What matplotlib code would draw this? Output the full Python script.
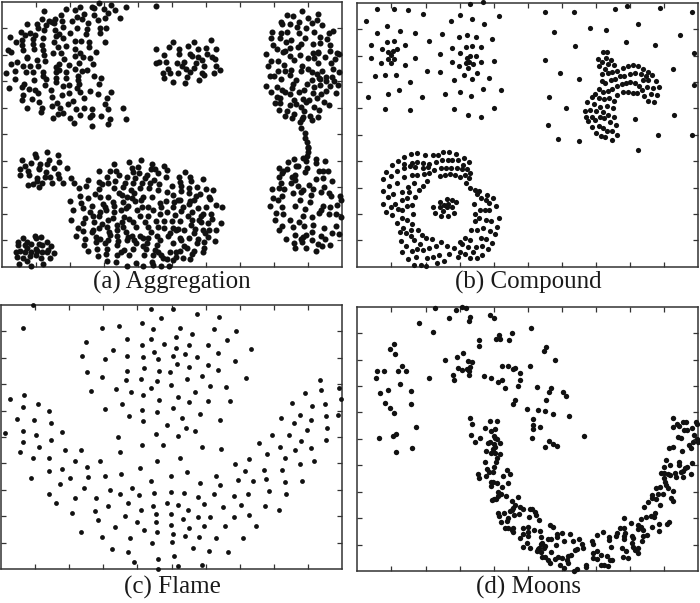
import numpy as np
import matplotlib
matplotlib.use('Agg')
import matplotlib.pyplot as plt

# Points, one list per zoomed crop (crop pixels, 3x scale)
agg_tile1 = [(297,8),(240,20),(277,20),(281,24),(332,16),(311,27),(379,22),(468,17),(345,30),(199,28),(224,30),(131,33),(251,42),(324,40),(283,45),(184,46),(232,50),(245,58),(360,54),(295,60),(314,55),(216,62),(187,62),(164,57),(157,65),(148,64),(126,58),(163,68),(80,71),(110,73),(115,84),(139,76),(188,80),(265,70),(232,83),(262,88),(299,84),(319,84),(133,90),(165,90),(64,96),(89,99),(75,104),(104,104),(210,100),(259,101),(299,100),(167,108),(178,103),(190,113),(30,112),(67,120),(99,117),(128,115),(162,126),(226,124),(242,122),(267,126),(314,125),(49,127),(65,136),(98,133),(127,135),(173,140),(197,137),(267,142),(225,147),(23,150),(33,157),(69,151),(103,148),(128,150),(158,160),(184,160),(241,159),(288,155),(133,165),(226,168),(250,170),(82,171),(80,175),(192,176),(271,174),(112,179),(136,183),(237,189),(33,193),(51,185),(176,191),(168,200),(70,198),(89,198),(115,199),(208,196),(280,193),(45,212),(177,210),(167,215),(225,207),(245,213),(261,211),(17,219),(79,216),(98,216),(129,216),(197,217),(130,228),(281,227),(235,228),(44,238),(103,240),(139,238),(168,234),(197,235),(234,240),(304,235),(73,252),(66,262),(28,263),(136,255),(168,247),(188,257),(206,255),(237,252),(296,252),(88,267),(104,270),(115,280),(154,271),(230,263),(240,277),(270,273),(206,280),(185,284),(295,281),(332,276),(70,286),(66,300),(156,290),(252,295),(322,295),(95,298),(116,306),(220,303),(170,309),(205,312),(316,312),(157,317),(80,324),(127,325),(122,335),(180,325),(227,326),(252,323),(275,328),(324,327),(369,325),(175,342),(188,340),(241,346),(277,346),(270,352),(302,349),(160,354),(210,354),(329,357),(378,356),(221,368),(275,378),(324,372),
             (468,147),(491,166),(507,140),(520,127),(468,190),(477,187),(498,186),(503,208),(489,219),(510,218),(491,234),(520,247)]
agg_tile2 = [(57,125),(108,120),(40,138),(12,147),(12,162),(94,144),(122,146),(70,148),(44,162),(50,167),(96,162),(70,172),(82,180),(112,172),(120,177),(7,190),(27,185),(22,197),(62,190),(58,203),(88,198),(34,207),(44,217),(124,198),(136,209),(117,218),(8,220),(80,218),(86,224),(36,231),(73,241),(31,250),
             (382,34),(337,44),(355,48),(428,42),(399,54),(425,60),(319,65),(322,72),(344,71),(373,67),(411,70),(442,74),(365,80),(393,85),(290,97),(319,98),(337,97),(371,100),(418,97),(461,98),(474,92),(287,113),(315,113),(390,113),(435,111),(457,118),(332,127),(347,121),(293,134),(377,133),(370,141),(414,132),(435,130),(464,136),(344,143),(306,148),(329,153),(323,157),(413,159),(429,155),(430,158),(466,153),(274,161),(345,167),(376,166),(487,160),(492,162),(399,175),(417,175),(449,171),(287,182),(308,183),(358,181),(429,188),(480,177),(468,188),(280,199),(328,196),(380,199),(474,206),(310,214),(330,214),(347,209),(378,212),(400,208),(412,216),(427,222),(442,213),(491,216),(284,227),(297,227),(345,226),(319,236),(433,235),(453,230),(470,232),(364,240),(411,240),(436,238),(476,242),(354,251),(395,252),(453,243),(436,255),(490,255),(273,257),(307,260),(417,262),(466,258),(352,265),(320,270),(330,275),(287,277),(371,276),(387,271),(414,278),(454,272),(482,278),(346,283),(438,282),(306,291),(315,293),(383,296),(401,301),(393,306),(426,294),(301,308),(316,308),(358,299),(448,306),(462,315),(345,315),(362,312),(379,321),(418,320),(313,330),(388,334),(431,330),(336,333),(356,341),(330,347),(383,350),(380,357),(376,365),(405,347),(429,350),(352,354),(412,361),(378,384),(390,399),(391,413),(397,427),(398,442)]
agg_tile3 = [(141,21),(104,28),(108,35),(173,31),(146,44),(67,46),(92,55),(120,57),(178,50),(142,56),(76,63),(117,68),(163,68),(200,68),(59,73),(85,77),(118,73),(60,90),(88,90),(138,80),(174,88),(111,100),(136,96),(150,95),(85,120),(98,118),(111,108),(127,114),(117,127),(157,113),(178,100),(189,114),(213,100),(221,113),(237,129),
             (70,279),(104,272),(108,280),(123,277),(55,290),(80,292),(93,296),(118,296),(140,290),(53,300),(74,300),(127,299),(153,303),(80,310),(107,313),(145,316),(47,320),(60,318),(75,320),(92,322),(110,318),(163,325),(125,322),(141,320),(51,335),(90,332),(107,330),(68,340),(124,340),(149,339),(82,349),(57,358),(93,364),(130,357),
             (342,58),(388,52),(424,44),(455,56),(492,63),(298,79),(331,77),(348,78),(395,70),(414,65),(452,73),(464,71),(400,80),(418,85),(500,75),(320,97),(357,90),(381,95),(441,90),(474,83),(263,104),(297,110),(346,107),(406,100),(435,100),(462,105),(498,97),(325,115),(257,124),(305,118),(375,115),(370,125),(399,113),(426,115),(451,115),(478,118),(517,122),(297,132),(343,128),(394,135),(420,130),(448,130),(500,140),(240,154),(285,148),(300,155),(358,145),(367,150),(403,143),(430,155),(473,135),(520,150),(264,158),(325,157),(380,155),(395,160),(422,165),(455,157),(211,168),(243,173),(310,178),(314,185),(340,170),(368,172),(405,168),(480,175),(482,185),(498,168),(523,172),(220,196),(250,190),(276,182),(343,184),(384,182),(425,185),(445,187),(519,185),(270,200),(300,200),(317,195),(364,195),(378,190),(410,195),(460,195),(480,207),(500,200),(254,218),(278,212),(298,214),(343,201),(373,215),(419,212),(445,212),(524,210),(212,224),(338,218),(386,222),(435,230),(469,228),(493,228),(250,235),(282,230),(325,225),(367,232),(400,232),(445,245),(515,228),(234,250),(275,262),(296,250),(305,238),(320,247),(351,240),(368,247),(408,247),(473,247),(492,250),(520,248),(248,257),(280,255),(326,262),(329,270),(350,255),(378,262),(421,272),(430,278),(452,260),(472,272),(227,272),(288,276),(352,272),(383,277),(396,272),(445,278),(505,272),(254,282),(300,282),(353,288),(324,284),(402,285),(380,285),(480,285),(510,265),(252,300),(288,292),(314,295),(350,300),(408,295),(440,295),(430,302),(470,300),(520,295),(263,319),(290,312),(322,313),(372,316),(363,320),(398,312),(438,312),(465,314),(474,322),(482,330),(295,333),(319,328),(350,330),(388,330),(431,330),(458,329),(490,340),(500,342),(510,322),(520,345),(320,347),(348,350),(455,350),(380,362),(408,355),(428,362),(460,360),(482,362),(508,362)]
agg_tile4 = [(399,8),(399,21),(384,39),(396,34),(394,47),(424,41),(451,48),(424,55),(339,50),(358,43),(396,68),(363,63),(369,63),(312,68),(335,71),(325,78),(322,85),(389,81),(431,78),(444,78),(460,78),(351,96),(360,90),(312,97),(423,103),(443,100),(470,107),(348,113),(359,106),(318,115),(401,120),(369,122),(290,131),(313,130),(328,133),(384,135),(447,126),(353,145),(377,140),(413,133),(461,144),(438,142),(469,152),(407,150),(295,158),(309,164),(322,152),(375,165),(496,153),(497,165),(284,183),(322,186),(360,183),(406,170),(485,181),(464,186),(445,183),(438,195),(391,193),(433,205),(302,205),(325,207),(483,206),(463,208),(497,215),(411,215),(384,213),(345,224),(299,226),(371,232),(414,240),(322,242),(353,247),(386,244),(448,250),(482,244),(311,256),(410,261),(470,263),(491,267),(360,271),(393,269),(438,272),(332,282),(383,277),(379,283),(412,285),(450,283),(358,293),(380,292),(428,297),(441,302),(466,300),(360,309),(393,308),(424,318),
             (31,82),(11,96),(46,96),(49,108),(85,102),(14,111),(19,124),(42,128),(65,127),(17,138),(41,145),(76,148),(63,153),(93,133),(113,135),(8,165),(14,166),(103,155),(106,161),(45,167),(58,165),(43,178),(24,186),(122,181),(140,187),(70,189),(92,187),(18,197),(52,200),(108,206),(84,207),(78,213),(72,225),(78,232),(112,221),(38,213),(16,229),(52,225),(99,233),(139,234),(48,240),(2,255),(10,253),(27,255),(60,252),(85,255),(102,254),(124,255),(58,265),(90,265),(100,277),(15,278),(17,285),(42,279),(70,282),(119,287),(88,292),(65,295),(28,302),(37,310),(16,318),(3,320),(58,318),(50,327),(86,310),(85,322),(2,337),(25,338),(44,342)]

comp_tile5 = [(359,12),(400,7),(82,27),(131,27),(175,30),(218,41),(331,45),(447,48),(49,64),(303,62),(365,57),(402,71),(112,78),(82,99),(151,92),(195,99),(275,101),(327,111),(352,104),(378,111),(427,117),(111,125),(131,122),(238,122),(64,136),(166,136),(306,143),(347,141),(365,138),(394,141),(95,148),(140,148),(115,157),(128,154),(122,165),(269,162),(329,159),(62,173),(114,176),(132,178),(196,173),(350,173),(361,168),(378,169),(93,189),(122,189),(165,194),(305,187),(347,189),(358,186),(368,192),(394,185),(432,182),(328,199),(355,203),(232,213),(269,217),(75,229),(106,225),(138,225),(342,224),(381,220),(417,234),(181,245),(313,241),(365,238),(148,271),(398,267),(454,269),(115,281),(286,281),(331,276),(55,292),(216,290),(362,287),(106,327),(179,331),(311,327),(431,325),(355,345),(394,350)]
comp_tile6 = [(59,37),(146,37),(270,27),(306,19),(404,24),(502,36),(339,71),(195,85),(244,90),(86,97),(464,106),(302,127),(149,138),(391,136),(506,160),(60,181),(444,208),(104,218),(163,236),(508,254),(73,290),(124,323),(446,346),(331,357),(70,376),(400,404),(502,404),(100,418),(161,423),(340,450),
              (233,157),(247,155),(243,174),(220,177),(257,181),(231,187),(249,193),(222,197),(268,195),(239,206),(295,205),(308,197),(323,194),(339,197),(354,206),(370,215),(381,225),(276,212),(262,216),(248,220),(232,221),(284,227),(296,228),(314,222),(331,220),(348,222),(364,228),(271,236),(259,241),(231,242),(240,250),(393,243),(316,245),(302,250),(330,249),(353,240),(370,240),(342,257),(290,253),(276,258),(262,266),(248,273),(233,277),(222,267),(403,262),(385,263),(366,262),(352,270),(293,275),(308,277),(324,280),(337,279),(275,285),(210,282),(378,283),(397,285),(356,289),(200,292),(221,295),(238,298),(253,293),(266,304),(186,306),(370,303),(387,306),(208,311),(247,318),(226,321),(263,325),(179,334),(195,329),(213,332),(235,336),(250,345),(184,352),(202,350),(224,350),(238,355),(268,351),(190,362),(210,360),(255,367),(273,376),(201,382),(223,378),(235,383),(247,393),(261,392),(213,399),(228,407),(241,412),(276,406),(260,420)]
comp_tile7 = [(183,26),(201,24),(225,30),(249,30),(264,29),(280,22),(297,22),(319,28),(163,37),(145,47),(342,38),(186,53),(201,50),(220,55),(238,57),(259,50),(277,45),(293,45),(307,46),(325,45),(358,52),(125,61),(163,58),(181,62),(340,60),(108,80),(141,78),(161,70),(196,66),(218,68),(235,65),(253,74),(272,68),(288,70),(304,70),(322,70),(337,72),(352,72),(122,93),(163,96),(185,90),(202,89),(221,88),(238,85),(270,93),(285,90),(301,87),(316,90),(331,95),(346,90),(360,84),(99,102),(232,109),(356,100),(117,123),(140,115),(175,125),(193,115),(218,122),(349,113),(360,130),(98,139),(130,148),(155,142),(178,141),(208,135),(375,135),(386,139),(115,157),(196,155),(382,148),(412,150),(172,160),(155,166),(394,158),(407,165),(428,160),(98,176),(136,176),(170,182),(187,180),(417,175),(373,176),(123,186),(391,195),(404,194),(417,195),(437,182),(108,202),(143,192),(155,195),(127,211),(188,208),(375,208),(156,218),(172,225),(388,220),(408,225),(424,228),(446,220),(141,235),(186,238),(374,228),(440,245),(160,248),(150,262),(184,256),(205,255),(380,255),(398,250),(420,258),(436,268),(215,270),(168,265),(362,256),(182,272),(229,280),(247,282),(345,278),(392,278),(408,282),(153,289),(193,285),(329,292),(361,285),(167,304),(209,296),(272,292),(337,298),(185,317),(218,314),(238,310),(258,303),(292,302),(355,305),(378,305),(395,303),(426,295),(156,322),(202,313),(312,310),(415,313),(330,320),(346,326),(368,320),(396,331),(268,330),(297,327),(175,341),(197,335),(232,339),(250,337),(325,335),(360,340),(380,340),(283,347),(192,359),(212,360),(228,363),(260,355),
              (290,161),(305,164),(271,170),(319,172),(293,177),(282,179),(250,185),(270,185),(290,186),(306,187),(278,197),(255,205),(272,212),(294,212),(313,203)]

flame_pts = [(98,16),(452,27),(518,27),(590,42),(482,54),(657,51),(68,84),(307,84),(358,78),(426,69),(459,87),(541,84),(642,87),(709,93),(575,101),(381,117),(452,117),(527,110),(680,120),(258,125),(426,134),(493,131),(567,134),(623,134),(527,143),(754,146),(340,149),(463,155),(247,167),(381,167),(430,170),(519,167),(556,163),(590,170),(653,160),(314,176),(475,178),(530,191),(705,184),(623,194),(433,203),(567,200),(381,212),(478,214),(511,217),(653,211),(262,217),(605,229),(307,232),(560,238),(378,241),(422,238),(471,243),(739,235),(512,255),(631,258),(679,261),(348,267),(452,264),(273,273),(393,276),(586,276),(430,285),(534,291),(72,285),(30,297),(478,300),(568,306),(623,303),(691,303),(113,312),(366,312),(68,321),(519,323),(314,327),(426,329),(146,333),(471,336),(601,341),(388,347),(50,357),(102,359),(545,353),(661,359),(430,362),(153,368),(500,374),(68,392),(15,398),(187,395),(557,383),(586,392),(467,401),(109,404),(355,412),(534,407),(154,419),(68,425),(116,441),(426,436),(490,436),(605,442),(664,448),(60,457),(194,451),(242,451),(359,457),(98,475),(146,475),(541,475),(225,484),(299,484),(471,484),(262,502),(419,505),(146,514),(187,508),(363,522),(560,516),(265,531),(314,528),(512,528),(649,528),(93,534),(210,535),(452,543),(180,552),(601,549),(661,555),(251,564),(396,564),(329,570),(146,582),(359,582),(418,585),(463,579),(512,576),(553,578),(642,582),(225,594),(288,594),(594,591),(169,608),(385,608),(501,608),(534,614),(612,611),(325,617),(459,617),(422,629),(284,632),(564,629),(668,620),(217,638),(467,641),(512,641),(374,647),(594,650),(631,650),(549,656),(295,659),(411,667),(467,667),(512,676),(344,682),(612,677),(676,677),(567,685),(433,691),(243,697),(471,697),(519,703),(307,712),(389,715),(556,709),(597,712),(649,715),(516,727),(456,730),(337,747),(578,745),(385,756),(627,753),(683,756),(523,768),(474,777),(403,786),(534,798),(605,795),(475,806),
             (959,241),(1017,263),(963,271),(914,279),(1023,297),(877,309),(974,312),(937,318),(899,344),(843,354),(978,348),(1014,345),(933,360),(881,368),(981,383),(922,389),(817,404),(866,404),(777,428),(903,422),(978,419),(840,442),(933,445),(884,451),(802,463),(747,478),(855,475),(941,484),(705,492),(899,492),(735,514),(791,511),(847,511),(713,540),(758,543),(799,537),(855,546),(907,543),(806,573),(702,587),(743,581),(859,581),(724,614),(795,617),(836,629),(702,650),(747,644),(769,679),(728,715)]

moons_tile9 = [(336,20),(348,25),(256,25),(318,31),(297,53),(361,50),(358,62),(421,44),(433,53),(208,69),(249,96),(446,105),(487,100),(437,118),(451,117),(478,121),(387,120),(386,137),(132,131),(119,146),(135,162),(338,159),(322,172),(286,181),(355,184),(367,186),(157,197),(457,198),(473,199),(82,212),(102,212),(143,213),(169,213),(325,205),(336,211),(352,208),(361,201),(357,212),(488,208),(494,203),(510,219),(310,224),(358,226),(402,227),(422,234),(77,234),(236,235),(457,240),(444,247),(311,241),(511,241),(151,253),(505,259),(464,264),(115,269),(182,273),(90,280),(494,300),(489,311),(106,310),(183,313),(120,325),(132,338),(361,354),(365,372),(420,364),(441,364),(197,381),(406,383),(436,388),(423,394),(139,402),(128,408),(87,415),(364,405),(391,413),(431,408),(436,414),(376,425),(441,418),(414,430),(420,425),(450,428),(432,432),(185,445),(435,440),(428,446)]
moons_tile10 = [(137,5),(407,3),(423,8),(436,10),(450,12),(440,25),(438,35),(404,36),(433,50),(412,58),(418,65),(430,65),(472,60),(459,77),(480,72),(384,72),(386,84),(408,77),(423,95),(430,97),(440,100),(474,98),(424,108),(456,110),(445,125),(452,133),(468,137),(443,137),(433,148),(426,149),(438,147),(503,140),(486,153),(494,165),(490,175),(487,180),(510,172),(520,176),(481,184),(445,190),(462,190),(446,198),(492,194),(506,192),(474,205),(472,213),(454,215),(466,235),(475,235),(490,233),(485,240),(489,245),(518,233),(510,263),(520,253),(518,292)]
moons_tile11 = [(18,85),(63,140),(56,154),(90,180),(16,198),(35,262),(78,264),(71,276),(113,276),(122,287),(62,300),(7,326),(40,330),(59,334),(83,342),(132,348),(25,358),(23,376),(24,387),(44,381),(21,413),(176,408),(72,423),(85,432),(97,438),(61,441),
                (443,355),(444,381),(456,372),(462,378),(474,367),(484,365),(478,391),(485,391),(500,385),(512,365),(516,372),(508,406),(458,412),(467,413),(515,418),(433,445),(445,442),(492,436),(497,445),(505,425),(520,425),(470,452)]
moons_tile12 = [(423,30),(436,44),(461,37),(461,46),(500,38),(417,50),(487,52),(480,55),(407,68),(417,68),(428,72),(436,76),(450,70),(468,65),(474,64),(497,72),(452,82),(473,81),(418,85),(420,95),(423,105),(430,113),(405,110),(393,115),(445,122),(380,135),(382,143),(400,133),(415,132),(392,146),(437,145),(444,152),(370,157),(404,165),(358,170),(14,176),(22,178),(29,185),(32,195),(11,200),(390,190),(387,200),(378,198),(362,200),(347,208),(297,203),(41,211),(319,218),(433,215),(427,222),(401,221),(380,230),(340,224),(347,232),(353,240),(74,226),(85,232),(9,232),(8,245),(28,241),(46,243),(286,233),(298,233),(402,243),(340,238),(235,247),(216,255),(110,248),(97,252),(135,253),(95,260),(116,272),(48,260),(8,258),(366,256),(354,258),(300,250),(297,258),(275,250),(272,258),(252,260),(251,270),(320,258),(350,272),(325,265),(68,267),(78,266),(162,267),(145,274),(200,272),(203,282),(298,268),(320,278),(6,278),(52,278),(48,282),(92,285),(170,282),(173,293),(258,290),(15,295),(43,295),(60,287),(57,295),(40,298),(35,302),(78,305),(155,297),(150,300),(290,295),(323,290),(330,300),(340,295),(217,303),(205,310),(228,315),(303,304),(338,310),(137,315),(130,318),(293,320),(308,324),(48,307),(52,322),(60,322),(70,330),(75,340),(100,322),(90,328),(112,325),(125,330),(130,340),(205,325),(215,327),(245,318),(255,330),(262,330),(250,348),(228,346),(238,346),(183,345),(183,352),(105,345),(118,353),(155,358),(148,362)]

titles = ['(a) Aggregation', '(b) Compound', '(c) Flame', '(d) Moons']

W, H = 700, 603
ink = '#111111'


def crop(pts, ox, oy):
    # crop pixels (3x) back to picture pixels
    a = np.array(pts, dtype=float)
    return np.column_stack([a[:, 0] / 3 + ox, a[:, 1] / 3 + oy])


def panel(fig, box, pts, size, title, title_xy):
    left, top, right, bottom = box
    ax = fig.add_axes([left / W, 1 - bottom / H, (right - left) / W, (bottom - top) / H])
    ax.scatter(pts[:, 0], pts[:, 1], s=size, color=ink, linewidths=0, clip_on=False, zorder=3)
    ax.set_xlim(left, right)
    ax.set_ylim(bottom, top)
    ax.set_xticks(np.linspace(left, right, 11)[1:-1])
    ax.set_yticks(np.linspace(bottom, top, 11)[1:-1])
    ax.tick_params(direction='in', length=3.4, width=0.9, color='#333333',
                   top=True, right=True, labelbottom=False, labelleft=False)
    for s in ax.spines.values():
        s.set_linewidth(1.1)
        s.set_color('#333333')
    fig.text(title_xy[0] / W, 1 - title_xy[1] / H, title, ha='center', va='center',
             family='Liberation Serif', fontsize=18, color='#1a1a1a')


fig = plt.figure(figsize=(7, 6.03), dpi=100)

aggregation = np.vstack([crop(agg_tile1, 0, 0), crop(agg_tile2, 175, 0),
                         crop(agg_tile3, 0, 145), crop(agg_tile4, 175, 145)])
compound = np.vstack([crop(comp_tile5, 350, 0), crop(comp_tile6, 525, 0), crop(comp_tile7, 350, 145)])
flame = crop(flame_pts, 0, 300)
moons = np.vstack([crop(moons_tile9, 350, 300), crop(moons_tile10, 350, 450),
                   crop(moons_tile11, 525, 300), crop(moons_tile12, 525, 450)])

panel(fig, (1.7, 2, 341.7, 266.7), aggregation, 19, titles[0], (172, 282))
panel(fig, (357.3, 3, 698.3, 266.7), compound, 14, titles[1], (528, 282))
panel(fig, (1, 304.7, 342, 569.3), flame, 12, titles[2], (172, 587))
panel(fig, (357.3, 306.7, 698.3, 571), moons, 15, titles[3], (529, 587))

fig.savefig('out.png', dpi=100)
